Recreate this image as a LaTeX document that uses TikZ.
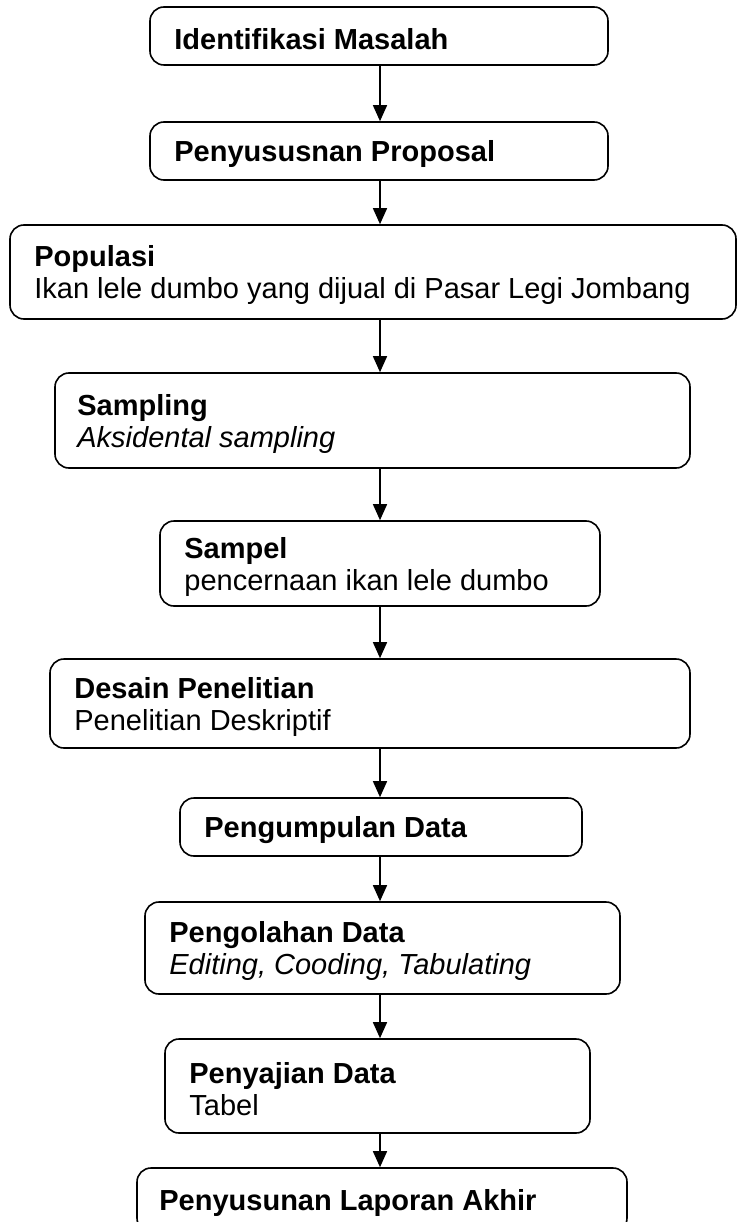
\documentclass[tikz,border=0pt]{standalone}
\usepackage{fontspec}
\setmainfont{Liberation Sans}
\usetikzlibrary{positioning,arrows.meta}
\tikzstyle{box}=[%
	draw, rounded corners=14pt, line width=1.6pt, inner sep=0, minimum width=#1
]
\tikzstyle{txt}=[%
	inner sep=0, align=left, anchor=west, yshift=-3pt, font=\fontsize{29}{32}\selectfont
]
\tikzstyle{flow}=[%
	line width=1.5pt, -{Triangle[length=16pt, width=14pt]}
]

\begin{document}
\begin{tikzpicture}[x=1pt, y=1pt]
	\useasboundingbox (0,0) rectangle (739,-1222);

	\coordinate (axis) at (380,0);

	\node[box=458pt, minimum height=58pt] (identifikasi) at (379,-36) {};
	\node[txt, right=25pt of identifikasi.west] (identifikasi-t) {\bfseries Identifikasi Masalah};

	\node[box=458pt, minimum height=58pt] (proposal) at (379,-151) {};
	\node[txt, right=25pt of proposal.west] (proposal-t) {\bfseries Penyususnan Proposal};

	\node[box=726pt, minimum height=94pt] (populasi) at (373,-272) {};
	\node[txt, right=25pt of populasi.west] (populasi-t) {\textbf{Populasi}\\Ikan lele dumbo yang dijual di Pasar Legi Jombang};

	\node[box=635pt, minimum height=95pt] (sampling) at (372.5,-420.5) {};
	\node[txt, right=23pt of sampling.west] (sampling-t) {\textbf{Sampling}\\\textit{Aksidental sampling}};

	\node[box=440pt, minimum height=85pt] (sampel) at (380,-563.5) {};
	\node[txt, right=25pt of sampel.west] (sampel-t) {\textbf{Sampel}\\pencernaan ikan lele dumbo};

	\node[box=640pt, minimum height=89pt] (desain) at (370,-703.5) {};
	\node[txt, right=25pt of desain.west] (desain-t) {\textbf{Desain Penelitian}\\Penelitian Deskriptif};

	\node[box=402pt, minimum height=58pt] (pengumpulan) at (381,-827) {};
	\node[txt, right=25pt of pengumpulan.west] (pengumpulan-t) {\bfseries Pengumpulan Data};

	\node[box=475pt, minimum height=92pt] (pengolahan) at (382.5,-948) {};
	\node[txt, right=25pt of pengolahan.west] (pengolahan-t) {\textbf{Pengolahan Data}\\\textit{Editing, Cooding, Tabulating}};

	\node[box=425pt, minimum height=94pt] (penyajian) at (377.5,-1086) {};
	\node[txt, right=25pt of penyajian.west] (penyajian-t) {\textbf{Penyajian Data}\\Tabel};

	\node[box=490pt, minimum height=64pt] (laporan) at (382,-1200) {};
	\node[txt, right=23pt of laporan.west] (laporan-t) {\bfseries Penyusunan Laporan Akhir};

	\foreach \a/\b in {identifikasi/proposal, proposal/populasi, populasi/sampling,
		sampling/sampel, sampel/desain, desain/pengumpulan, pengumpulan/pengolahan,
		pengolahan/penyajian, penyajian/laporan} {
		\draw[flow] (\a.south -| axis) -- (\b.north -| axis);
	};
\end{tikzpicture}
\end{document}
